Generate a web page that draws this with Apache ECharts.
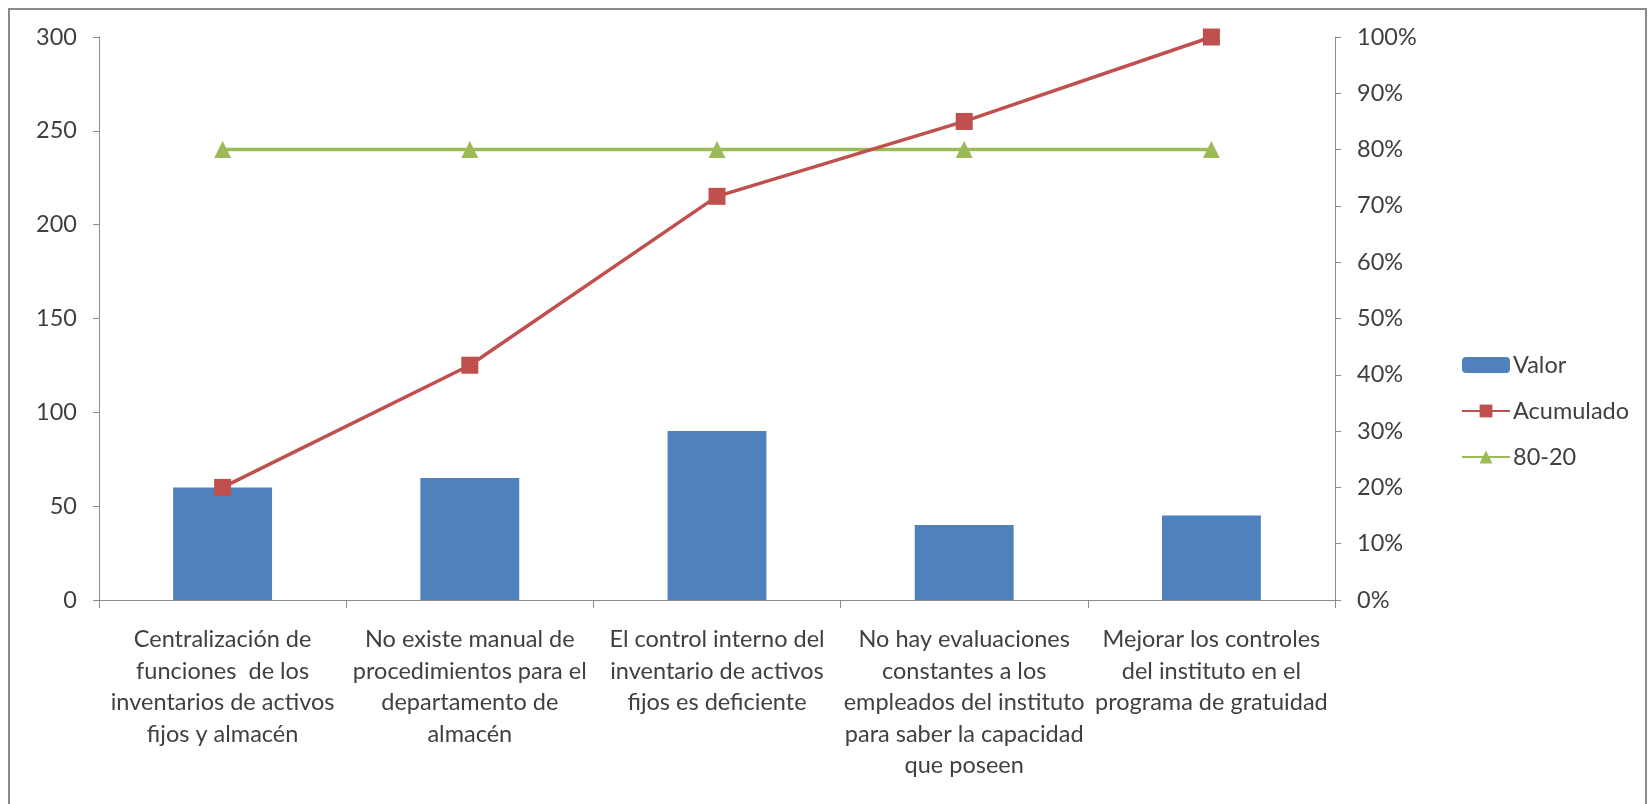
<!DOCTYPE html>
<html>
<head>
<meta charset="utf-8">
<title>Diagrama de Pareto</title>
<script src="https://cdn.jsdelivr.net/npm/echarts@6/dist/echarts.min.js"></script>
<style>
  html, body { margin: 0; padding: 0; background: #ffffff; }
  #chart { width: 1648px; height: 804px; }
</style>
</head>
<body>
<div id="chart"></div>
<script>
// Causas (categorías del eje X)
const categories = [
  'Centralización de\nfunciones  de los\ninventarios de activos\nfijos y almacén',
  'No existe manual de\nprocedimientos para el\ndepartamento de\nalmacén',
  'El control interno del\ninventario de activos\nfijos es deficiente',
  'No hay evaluaciones\nconstantes a los\nempleados del instituto\npara saber la capacidad\nque poseen',
  'Mejorar los controles\ndel instituto en el\nprograma de gratuidad'
];

// Frecuencia de cada causa
const valor = [60, 65, 90, 40, 45];

// Porcentaje acumulado (%)
const acumulado = [20, 41.7, 71.7, 85, 100];

// Línea de referencia 80-20 (%)
const linea8020 = [80, 80, 80, 80, 80];

// Escalas de los ejes
const leftTicks = { min: 0, max: 300, interval: 50 };
const rightTicks = { min: 0, max: 100, interval: 10, suffix: '%' };

const FONT = 'Lato, "Open Sans", sans-serif';
const TEXT = '#404040';
const AXIS = '#8c8c8c';
const FS = 23.5;

const chart = echarts.init(document.getElementById('chart'), null, { renderer: 'canvas' });

chart.setOption({
  backgroundColor: '#ffffff',
  animation: false,
  textStyle: { fontFamily: FONT },
  graphic: [{
    type: 'rect',
    silent: true,
    shape: { x: 9, y: 9, width: 1637, height: 830 },
    style: { fill: 'none', stroke: '#8a8a8a', lineWidth: 2 }
  }],
  grid: { left: 99, right: 313, top: 37, bottom: 204 },
  legend: {
    orient: 'vertical',
    left: 1456,
    top: 347,
    itemWidth: 48,
    itemHeight: 16,
    itemGap: 20,
    textStyle: { fontFamily: FONT, fontSize: FS, color: TEXT, lineHeight: 26, padding: [0, 0, 0, -2] },
    data: ['Valor', 'Acumulado', '80-20']
  },
  xAxis: {
    type: 'category',
    data: categories,
    boundaryGap: true,
    axisLine: { lineStyle: { color: AXIS, width: 1 } },
    axisTick: { show: true, length: 8, lineStyle: { color: AXIS } },
    axisLabel: {
      interval: 0,
      margin: 24,
      fontFamily: FONT,
      fontSize: FS,
      lineHeight: 31.5,
      color: TEXT,
      align: 'center'
    },
    splitLine: { show: false }
  },
  yAxis: [{
    type: 'value',
    min: leftTicks.min,
    max: leftTicks.max,
    interval: leftTicks.interval,
    axisLine: { show: true, lineStyle: { color: AXIS } },
    axisTick: { show: true, length: 6, lineStyle: { color: AXIS } },
    axisLabel: { margin: 22, fontFamily: FONT, fontSize: FS, color: TEXT },
    splitLine: { show: false }
  }, {
    type: 'value',
    position: 'right',
    min: rightTicks.min,
    max: rightTicks.max,
    interval: rightTicks.interval,
    axisLine: { show: true, lineStyle: { color: AXIS } },
    axisTick: { show: true, length: 6, lineStyle: { color: AXIS } },
    axisLabel: {
      margin: 22,
      fontFamily: FONT,
      fontSize: FS,
      color: TEXT,
      formatter: v => v + rightTicks.suffix
    },
    splitLine: { show: false }
  }],
  series: [{
    name: 'Valor',
    type: 'bar',
    data: valor,
    barWidth: '40%',
    itemStyle: { color: '#4f81bd' }
  }, {
    name: 'Acumulado',
    type: 'line',
    yAxisIndex: 1,
    data: acumulado,
    symbol: 'rect',
    symbolSize: 17,
    lineStyle: { color: '#c0504d', width: 3.5 },
    itemStyle: { color: '#c0504d' },
    z: 4
  }, {
    name: '80-20',
    type: 'line',
    yAxisIndex: 1,
    data: linea8020,
    symbol: 'triangle',
    symbolSize: 17,
    lineStyle: { color: '#9bbb59', width: 3.5 },
    itemStyle: { color: '#9bbb59' },
    z: 3
  }]
});
</script>
</body>
</html>
